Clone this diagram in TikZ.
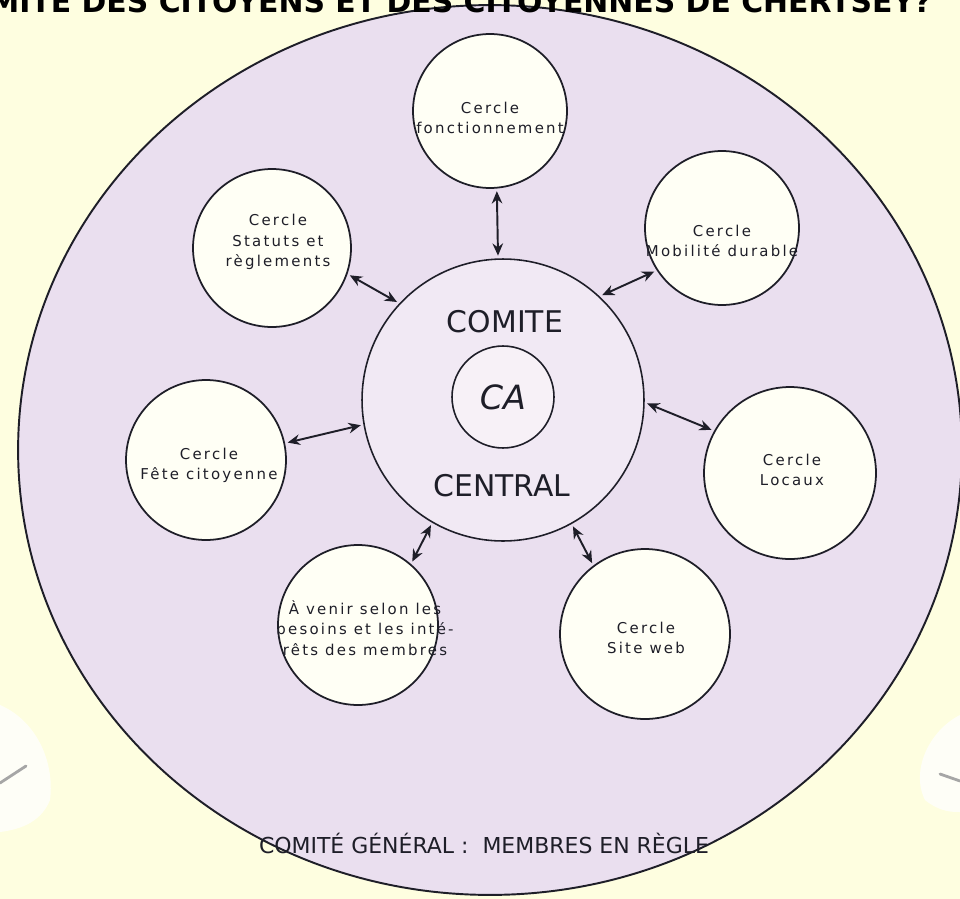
\documentclass[tikz,border=0pt]{standalone}
\usepackage{fontspec}
\setmainfont{DejaVu Sans}
\newfontfamily\satfont[LetterSpace=15]{DejaVu Sans}
\usetikzlibrary{shapes.geometric,arrows.meta}
\definecolor{bgcol}{HTML}{FEFEE0}
\definecolor{outerfill}{HTML}{EADFEF}
\definecolor{centfill}{HTML}{F1E9F4}
\definecolor{satfill}{HTML}{FFFFF5}
\definecolor{cafill}{HTML}{F7F1F7}
\definecolor{inkcol}{HTML}{1E1E28}
\tikzset{
  satcircle/.style={circle, draw=inkcol, line width=1pt, fill=satfill, inner sep=0pt},
  satlabel/.style={align=center, inner sep=0pt, text=inkcol, font=\satfont\fontsize{8.5}{11.5}\selectfont},
  link/.style={{Stealth[length=7pt,width=6pt]}-{Stealth[length=7pt,width=6pt]}, line width=1.1pt, draw=inkcol, shorten <=1.5pt, shorten >=1.5pt},
  bigtext/.style={text=inkcol, inner sep=0pt},
  smudge/.style={fill=white, opacity=0.75, draw=none},
  smudgeline/.style={draw=gray!70, line width=1.6pt, line cap=round}
}
\begin{document}
\begin{tikzpicture}[x=0.02cm,y=-0.02cm]
\useasboundingbox (0,0) rectangle (960,899);
\fill[bgcol] (0,0) rectangle (960,899);
% paper smudges at the sides
\fill[smudge] (0,705) .. controls (35,720) and (55,760) .. (50,800) .. controls (40,825) and (15,830) .. (0,832) -- cycle;
\draw[smudgeline] (0,783) -- (26,766);
\fill[smudge] (960,715) .. controls (930,730) and (910,770) .. (925,800) .. controls (940,812) and (952,812) .. (960,812) -- cycle;
\draw[smudgeline] (940,774) -- (960,781);
% outer circle
\node[ellipse, draw=inkcol, line width=1.1pt, fill=outerfill, minimum width=18.88cm, minimum height=17.8cm, inner sep=0pt] (outer) at (490,450) {};
\node[bigtext, font=\fontsize{12.5}{15}\selectfont] (general) at (484,843) {COMITÉ GÉNÉRAL :\ \ MEMBRES EN RÈGLE};
% title (cut at the top edge, as in the source)
\node[font=\bfseries\fontsize{17}{20}\selectfont, anchor=base east, text=black, inner sep=0pt] (title) at (932,12) {COMITÉ DES CITOYENS ET DES CITOYENNES DE CHERTSEY?};
% central circle
\node[circle, draw=inkcol, line width=0.9pt, fill=centfill, minimum size=5.64cm, inner sep=0pt] (cent) at (503,400) {};
\node[bigtext, font=\fontsize{17}{20}\selectfont] (comite) at (505,322) {COMITE};
\node[bigtext, font=\fontsize{17}{20}\selectfont] (central) at (502,486) {CENTRAL};
\node[circle, draw=inkcol, line width=0.9pt, fill=cafill, minimum size=2.04cm, inner sep=0pt, text=inkcol, font=\fontsize{19}{22}\selectfont\itshape] (ca) at (503,397) {CA};
% satellite circles
\node[satcircle, minimum size=3.08cm] (fonc) at (490,111) {};
\node[satcircle, minimum size=3.08cm] (mob) at (722,228) {};
\node[satcircle, minimum size=3.16cm] (stat) at (272,248) {};
\node[satcircle, minimum size=3.2cm] (fete) at (206,460) {};
\node[satcircle, minimum size=3.44cm] (loc) at (790,473) {};
\node[satcircle, minimum size=3.4cm] (web) at (645,634) {};
\node[satcircle, minimum size=3.2cm] (avenir) at (358,625) {};
% satellite labels
\node[satlabel] (fonc-t) at (490,118) {Cercle\\fonctionnement};
\node[satlabel] (mob-t) at (722,241) {Cercle\\Mobilité durable};
\node[satlabel] (stat-t) at (278,242) {Cercle\\Statuts et\\règlements};
\node[satlabel] (fete-t) at (209,465) {Cercle\\Fête citoyenne};
\node[satlabel] (loc-t) at (792,470) {Cercle\\Locaux};
\node[satlabel] (web-t) at (646,638) {Cercle\\Site web};
\node[satlabel] (avenir-t) at (365,628) {À venir selon les\\besoins et les inté-\\rêts des membres};
% connectors
\draw[link] (fonc.-85) -- (cent.92);
\draw[link] (stat.-19) -- (cent.137);
\draw[link] (mob.-147) -- (cent.47);
\draw[link] (fete.12) -- (cent.190);
\draw[link] (loc.151) -- (cent.-1);
\draw[link] (web.127) -- (cent.-61);
\draw[link] (avenir.49) -- (cent.-120);
\end{tikzpicture}
\end{document}
